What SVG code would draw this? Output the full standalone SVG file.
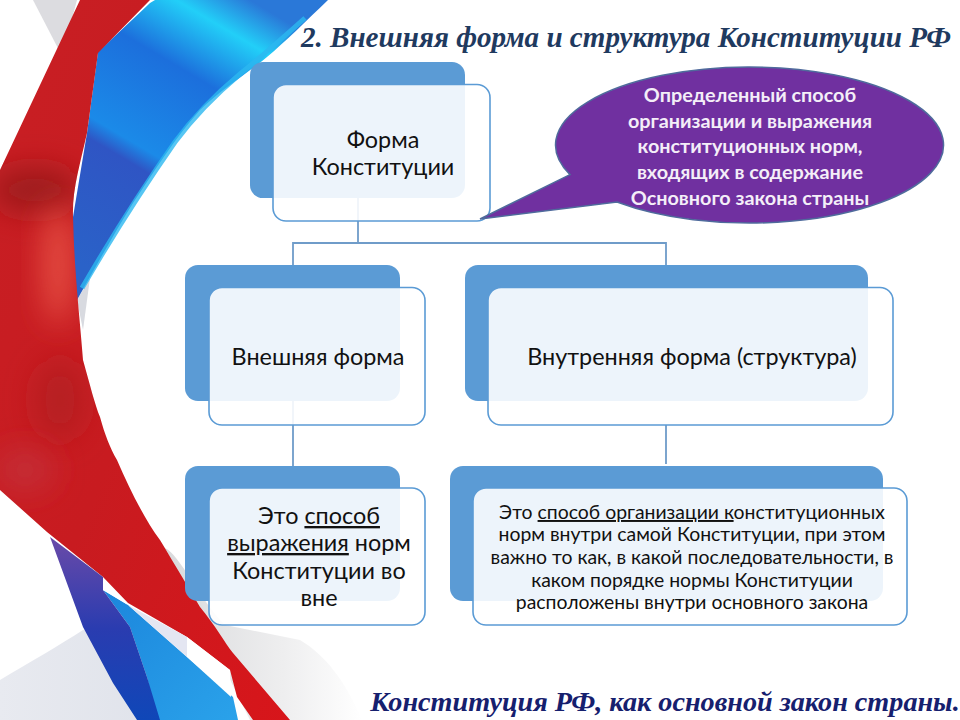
<svg xmlns="http://www.w3.org/2000/svg" width="960" height="720" viewBox="0 0 960 720">
<style>
.back{fill:#5b9bd5}
.front{fill:#fff;fill-opacity:.89;stroke:#5b9bd5;stroke-width:1.6}
.t{font-family:"Lato","Open Sans","Noto Sans",sans-serif;fill:#111;text-anchor:middle}
.big{font-size:23.400px}
.small{font-size:19.400px}
.call{font-size:19.800px;font-weight:bold;fill:#f4eef8}
.conn{fill:none;stroke:#6f9cc9;stroke-width:1.8}
.head{font-family:"Liberation Serif",serif;font-weight:bold;font-style:italic}
</style>
<defs>
<linearGradient id="red2" x1="0" y1="0" x2="1" y2="1"><stop offset="0" stop-color="#c81f24"/><stop offset=".5" stop-color="#c81b20"/><stop offset="1" stop-color="#d8151a"/></linearGradient>
<linearGradient id="blue" gradientUnits="userSpaceOnUse" x1="90" y1="270" x2="250" y2="0"><stop offset="0" stop-color="#2a62c8"/><stop offset=".36" stop-color="#2f55c4"/><stop offset=".42" stop-color="#1b8ae8"/><stop offset=".7" stop-color="#1c6fdc"/><stop offset=".88" stop-color="#22cff8"/><stop offset="1" stop-color="#2a78d8"/></linearGradient>
<linearGradient id="blueLow" x1="0" y1="0" x2="1" y2="1"><stop offset="0" stop-color="#1c86dc"/><stop offset="1" stop-color="#2aa2ea"/></linearGradient>
<linearGradient id="dark" x1="0" y1="0" x2="0" y2="1"><stop offset="0" stop-color="#6a4aa8"/><stop offset=".5" stop-color="#2a3cb0"/><stop offset="1" stop-color="#0f47b8"/></linearGradient>
<linearGradient id="grayL" x1="0" y1="0" x2="1" y2="0"><stop offset="0" stop-color="#e8eaf0"/><stop offset="1" stop-color="#dfe2ea"/></linearGradient>
<linearGradient id="grayR" x1="0" y1="0" x2="1" y2="0"><stop offset="0" stop-color="#d9dadc"/><stop offset=".6" stop-color="#eeeeef"/><stop offset="1" stop-color="#fff"/></linearGradient>
<filter id="soft" x="-80%" y="-80%" width="260%" height="260%"><feGaussianBlur stdDeviation="15"/></filter>
<clipPath id="redClip"><path d="M0 170L80 0H150L98 53L87 133C80 165 72 190 73 217C74 270 80 320 83 360C90 385 95 405 100 417C105 435 110 448 117 460C130 490 145 520 160 540C175 565 190 590 200 607C215 625 225 643 233 653L290 720H253L237 697L230 670L187 637L128 603L103 577L47 532L0 490Z"/></clipPath>
</defs>
<rect id="background" width="960" height="720" fill="#fff"/>
<g id="ribbons">
<path d="M33 0H77L62 56Z" fill="#dcdce0"/>
<path d="M77 300L90 278L83 330Z" fill="#d8dae0"/>
<path d="M0 680C30 662 60 645 83 630L130 625L175 720H0Z" fill="url(#grayL)"/>
<path d="M165 548C180 555 200 600 225 625L300 640C325 655 345 680 362 720H250Z" fill="url(#grayR)"/>
<path d="M98 52L150 3L155 0H328C305 22 285 42 267 57C245 75 220 90 200 110C175 138 155 170 133 203C115 232 95 268 77 300C72 270 72 240 73 217L87 133Z" fill="url(#blue)"/>
<path d="M305 18C285 36 262 56 240 74C215 95 195 115 175 142C145 185 110 240 82 288" fill="none" stroke="#2cb8f0" stroke-width="5" stroke-opacity=".8"/>
<g clip-path="url(#redClip)">
<rect width="300" height="720" fill="url(#red2)"/>
<ellipse cx="35" cy="190" rx="45" ry="22" fill="#8f1d1a" fill-opacity=".75" filter="url(#soft)"/>
<ellipse cx="58" cy="265" rx="14" ry="60" fill="#f06050" fill-opacity=".8" filter="url(#soft)"/>
<ellipse cx="60" cy="400" rx="25" ry="40" fill="#a51f24" fill-opacity=".5" filter="url(#soft)"/>
<ellipse cx="25" cy="470" rx="30" ry="22" fill="#c04050" fill-opacity=".45" filter="url(#soft)"/>
</g>
<path d="M103 590L128 605L187 657L233 697L238 720H157L147 677L130 627Z" fill="url(#blueLow)"/>
<path d="M50 537L103 577V590L130 627L147 677L160 720H137L113 683L83 627Z" fill="url(#dark)"/>
<path d="M128 605L187 637V657Z" fill="#e4e6f2"/>
<path d="M103 580L128 605L103 590Z" fill="#fff"/>
<path d="M187 637L230 670L231 697L187 657Z" fill="#fff"/>
</g>
<text id="title" class="head" x="626" y="47" text-anchor="middle" font-size="29.100" fill="#1f3a5f">2. Внешняя форма и структура Конституции РФ</text>
<g id="connectors">
<path class="conn" d="M358 198V243M293 265V243H666V265M293 401V466M666 425V464"/>
</g>
<g id="node-forma">
<rect class="back" x="250" y="62" width="215" height="136" rx="13"/>
<rect class="front" x="273" y="84.500" width="217" height="136.500" rx="13"/>
<text class="t big" x="383" y="148">Форма</text>
<text class="t big" x="383" y="175">Конституции</text>
</g>
<g id="node-callout">
<path d="M480 219L570 174.600A194 78 0 1 1 617 202Z" fill="#7030a0" stroke="#4f6b9c" stroke-width="1.500"/>
<text class="t call" x="750" y="102">Определенный способ</text>
<text class="t call" x="750" y="128">организации и выражения</text>
<text class="t call" x="750" y="153">конституционных норм,</text>
<text class="t call" x="750" y="179">входящих в содержание</text>
<text class="t call" x="750" y="205">Основного закона страны</text>
</g>
<g id="node-outer">
<rect class="back" x="185" y="265" width="215" height="136" rx="13"/>
<rect class="front" x="209" y="287.500" width="216" height="137.500" rx="13"/>
<text class="t big" x="318" y="365">Внешняя форма</text>
</g>
<g id="node-inner">
<rect class="back" x="465" y="265" width="403" height="136" rx="13"/>
<rect class="front" x="488" y="287.500" width="405" height="137.500" rx="13"/>
<text class="t big" x="692" y="365">Внутренняя форма (структура)</text>
</g>
<g id="node-outer-desc">
<rect class="back" x="185" y="466" width="215" height="135" rx="13"/>
<rect class="front" x="209" y="488" width="216" height="137" rx="13"/>
<text class="t big" x="319" y="524">Это <tspan text-decoration="underline">способ</tspan></text>
<text class="t big" x="319" y="551"><tspan text-decoration="underline">выражения</tspan> норм</text>
<text class="t big" x="319" y="579">Конституции во</text>
<text class="t big" x="319" y="606">вне</text>
</g>
<g id="node-inner-desc">
<rect class="back" x="450" y="466" width="433" height="135" rx="13"/>
<rect class="front" x="473" y="488" width="434" height="137" rx="13"/>
<text class="t small" x="692" y="519">Это <tspan text-decoration="underline">способ организации к</tspan>онституционных</text>
<text class="t small" x="692" y="541">норм внутри самой Конституции, при этом</text>
<text class="t small" x="692" y="564">важно то как, в какой последовательности, в</text>
<text class="t small" x="692" y="587">каком порядке нормы Конституции</text>
<text class="t small" x="692" y="609">расположены внутри основного закона</text>
</g>
<text id="footer" class="head" x="665" y="711" text-anchor="middle" font-size="28.200" fill="#16206e">Конституция РФ, как основной закон страны.</text>
</svg>
